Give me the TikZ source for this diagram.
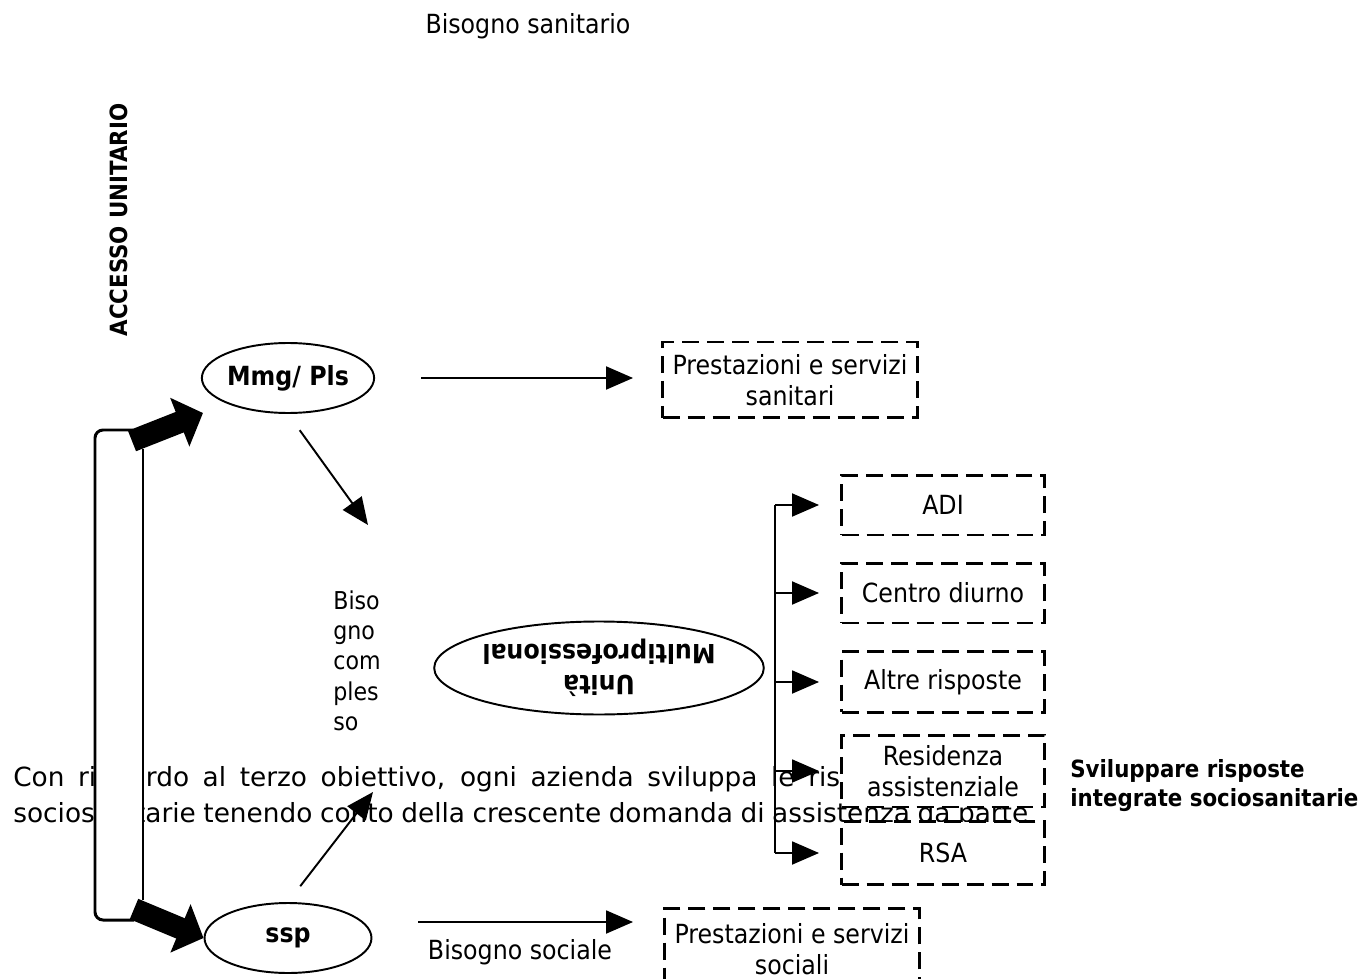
\documentclass[tikz,border=0pt]{standalone}
\usepackage{fontspec}
\setmainfont{DejaVu Sans Condensed}
\newfontfamily\widefont{DejaVu Sans}
\usetikzlibrary{arrows.meta,shapes.geometric,positioning}

\newcommand{\boxfont}{\fontsize{15}{17.6}\selectfont}
\newcommand{\smallfont}{\fontsize{14}{17.3}\selectfont}
\newcommand{\pagefont}{\widefont\fontsize{15}{21.5}\selectfont}

\tikzset{signal/.style={%
  -{Triangle[length=0.54cm,width=0.46cm]},
  line width=1.1pt,
  }
}
\tikzset{fat/.style={%
  -{Triangle[length=0.5cm,width=1.02cm]},
  line width=0.44cm,
  }
}
\tikzset{actor/.style={%
  ellipse,
  draw,
  line width=1.1pt,
  fill=white,
  inner sep=0pt,
  align=center,
  minimum width=3.34cm,
  minimum height=1.4cm,
  font=\boxfont\bfseries,
  }
}
\tikzset{answer/.style={%
  draw,
  dash pattern=on 0.34cm off 0.16cm,
  line width=1.7pt,
  fill=white,
  inner sep=0pt,
  align=center,
  font=\boxfont,
  }
}
\tikzset{access diagram/.style={x=0.02cm,y=-0.02cm,every node/.style={font=\boxfont}}}

\begin{document}
\begin{tikzpicture}[access diagram]
  \useasboundingbox (0,0) rectangle (1368,979);

  % running text of the page, behind the diagram
  \node (line1) [anchor=base west, inner sep=0pt, font=\pagefont] at (13,786)
    {\makebox[18cm][s]{Con riguardo al terzo obiettivo, ogni azienda sviluppa le risposte}};
  \node (line2) [anchor=base west, inner sep=0pt, font=\pagefont] at (13,822)
    {\makebox[20.3cm][s]{sociosanitarie tenendo conto della crescente domanda di assistenza da parte}};

  \node (sanitario) at (528,26) {Bisogno sanitario};
  \node (accesso) [rotate=90, font=\fontsize{13.5}{16}\selectfont\bfseries] at (119,220) {ACCESSO UNITARIO};

  \node (mmg) [actor] at (288,378) {Mmg/ Pls};
  \node (ssp) [actor] at (288,938) {ssp};
  \node (unita) [actor, rotate=180, minimum width=6.24cm, minimum height=1.86cm] at (599,668)
    {Unità\\Multiprofessional};

  \node (complesso) [anchor=north west, inner sep=0pt, align=left, font=\smallfont] at (333,590)
    {Biso\\gno\\com\\ples\\so};

  \node (sanitari) [answer, minimum width=5.1cm, minimum height=1.52cm] at (790,380)
    {Prestazioni e servizi\\sanitari};
  \node (sociali) [answer, anchor=north, minimum width=5.1cm, inner ysep=0.3cm, text depth=1.5cm] at (792,907)
    {Prestazioni e servizi\\sociali};
  \node (sociale) at (520,952) {Bisogno sociale};

  \node (adi) [answer, minimum width=4.06cm, minimum height=1.2cm] at (943,505) {ADI};
  \node (centro) [answer, minimum width=4.06cm, minimum height=1.2cm] at (943,593) {Centro diurno};
  \node (altre) [answer, minimum width=4.06cm, minimum height=1.22cm] at (943,682) {Altre risposte};
  \node (residenza) [answer, minimum width=4.06cm, minimum height=1.44cm] at (943,771)
    {Residenza\\assistenziale};
  \node (rsa) [answer, minimum width=4.06cm, minimum height=1.26cm] at (943,853) {RSA};

  \node (sviluppare) [anchor=west, align=left, inner sep=0pt, font=\fontsize{13.5}{16.5}\selectfont\bfseries] at (1070,786)
    {Sviluppare risposte\\integrate sociosanitarie};

  % bracket of the single access
  \fill [white] (95,430) rectangle (143,920);
  \draw [line width=1.7pt, rounded corners=0.16cm] (133,430) -- (95,430) -- (95,920) -- (134,920);
  \draw [line width=1.7pt] (143,449) -- (143,900);

  \coordinate (topbase) at (132,441);
  \coordinate (toptip) at (203,413);
  \coordinate (botbase) at (134,909);
  \draw [fat] (topbase) -- (toptip);
  \draw [fat] (botbase) -- (ssp.west);

  \coordinate (mmgtip) at (368,525);
  \coordinate (ssptip) at (373,792);
  \coordinate (socialestart) at (418,922);
  \draw [signal, shorten <=0.92cm, shorten >=0.56cm] (mmg.east) -- (mmg.east -| sanitari.west);
  \draw [signal, shorten <=0.4cm] (mmg.south) -- (mmgtip);
  \draw [signal, shorten <=0.4cm] (ssp.north) -- (ssptip);
  \draw [signal, shorten >=0.6cm] (socialestart) -- (socialestart -| sociali.west);

  \coordinate (trunktop) at (775,505);
  \coordinate (trunkbottom) at (775,853);
  \draw [line width=1.1pt] (trunktop) -- (trunkbottom);
  \draw [signal, shorten >=0.42cm] (adi.west -| trunktop) -- (adi.west);
  \draw [signal, shorten >=0.42cm] (centro.west -| trunktop) -- (centro.west);
  \draw [signal, shorten >=0.42cm] (altre.west -| trunktop) -- (altre.west);
  \draw [signal, shorten >=0.42cm] (residenza.west -| trunktop) -- (residenza.west);
  \draw [signal, shorten >=0.42cm] (rsa.west -| trunktop) -- (rsa.west);
\end{tikzpicture}
\end{document}
